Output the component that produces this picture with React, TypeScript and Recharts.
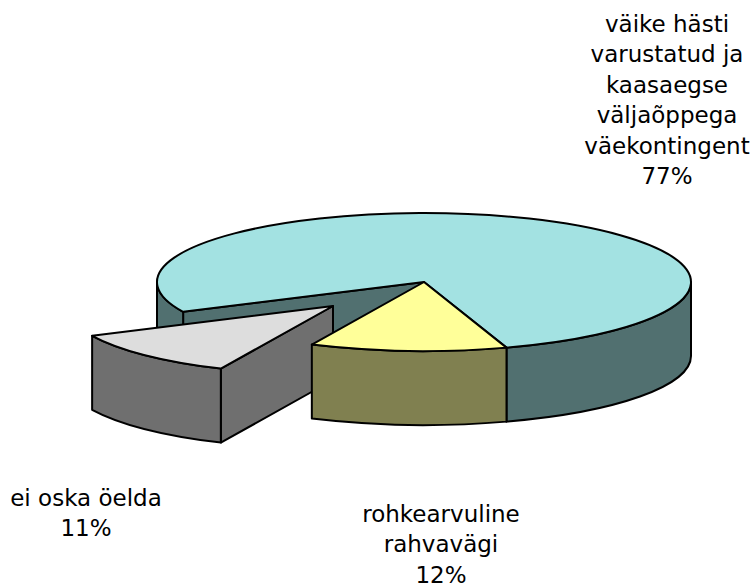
import React from 'react';
import { PieChart, Pie } from 'recharts';

const names = ['väike hästi varustatud ja kaasaegse väljaõppega väekontingent', 'ei oska öelda', 'rohkearvuline rahvavägi'];
const shares = [77.1, 11, 11.9];
const labelLines = [
  ['väike hästi', 'varustatud ja', 'kaasaegse', 'väljaõppega', 'väekontingent', '77%'],
  ['ei oska öelda', '11%'],
  ['rohkearvuline', 'rahvavägi', '12%'],
];
const topColors = ['#A3E2E2', '#DDDDDD', '#FFFF99'];
const sideColors = ['#517070', '#6F6F6F', '#808050'];

// where each label block starts (centre x, first baseline)
const labelAnchors = [
  { x: 667, y: 32 },
  { x: 86, y: 506 },
  { x: 441, y: 522 },
];
// how far a slice is pulled out of the pie
const explode = [
  { dx: 0, dy: 0 },
  { dx: -91, dy: 24 },
  { dx: 0, dy: 0 },
];

const TILT = 69 / 267;
const DEPTH = 74;
const rad = (deg: number) => (deg * Math.PI) / 180;

const Slice3D = (props: any) => {
  const { cx, cy, outerRadius, startAngle, endAngle, index } = props;
  const rx = outerRadius;
  const ry = outerRadius * TILT;
  const ox = cx + explode[index].dx;
  const oy = cy + explode[index].dy;
  // screen angle runs clockwise, the library's runs counter-clockwise
  const t0 = -endAngle;
  const t1 = -startAngle;
  const pt = (t: number, drop = 0) => `${ox + rx * Math.cos(rad(t))} ${oy + ry * Math.sin(rad(t)) + drop}`;
  const arc = (a: number, b: number, sweep: number, drop = 0) =>
    `A ${rx} ${ry} 0 ${Math.abs(b - a) > 180 ? 1 : 0} ${sweep} ${pt(b, drop)}`;

  const edge = { stroke: '#000', strokeWidth: 2, strokeLinejoin: 'round' as const };
  const side = sideColors[index];
  const faces: React.ReactNode[] = [];

  const cutFace = (t: number) => (
    <path
      key={`cut-${t}`}
      d={`M ${ox} ${oy} L ${pt(t)} L ${pt(t, DEPTH)} L ${ox} ${oy + DEPTH} Z`}
      fill={side}
      {...edge}
    />
  );
  if (Math.cos(rad(t0)) < 0) faces.push(cutFace(t0));
  if (Math.cos(rad(t1)) > 0) faces.push(cutFace(t1));

  // outer wall, only the part on the front half of the ellipse
  [-360, 0, 360].forEach((k) => {
    const a = Math.max(t0, k);
    const b = Math.min(t1, k + 180);
    if (b > a) {
      faces.push(
        <path
          key={`wall-${k}`}
          d={`M ${pt(a)} ${arc(a, b, 1)} L ${pt(b, DEPTH)} ${arc(b, a, 0, DEPTH)} Z`}
          fill={side}
          {...edge}
        />,
      );
    }
  });

  return (
    <g>
      {faces}
      <path d={`M ${ox} ${oy} L ${pt(t0)} ${arc(t0, t1, 1)} Z`} fill={topColors[index]} {...edge} />
    </g>
  );
};

const SliceLabel = (props: any) => {
  const { index } = props;
  const anchor = labelAnchors[index];
  return (
    <text x={anchor.x} y={anchor.y} textAnchor="middle" fontFamily="DejaVu Sans" fontSize={23} fill="#000">
      {labelLines[index].map((line, i) => (
        <tspan key={line} x={anchor.x} dy={i === 0 ? 0 : 30.4}>
          {line}
        </tspan>
      ))}
    </text>
  );
};

const data = names.map((name, i) => ({ name, value: shares[i] }));

export default function App() {
  return (
    <div style={{ position: 'absolute', left: 0, top: 0, width: 755, height: 585, background: '#fff' }}>
      <PieChart width={755} height={585} margin={{ top: 0, right: 0, bottom: 0, left: 0 }}>
        <Pie
          data={data}
          dataKey="value"
          nameKey="name"
          cx={424}
          cy={282}
          innerRadius={0}
          outerRadius={267}
          startAngle={-72}
          endAngle={288}
          shape={Slice3D}
          label={SliceLabel}
          labelLine={false}
          isAnimationActive={false}
        />
      </PieChart>
    </div>
  );
}
